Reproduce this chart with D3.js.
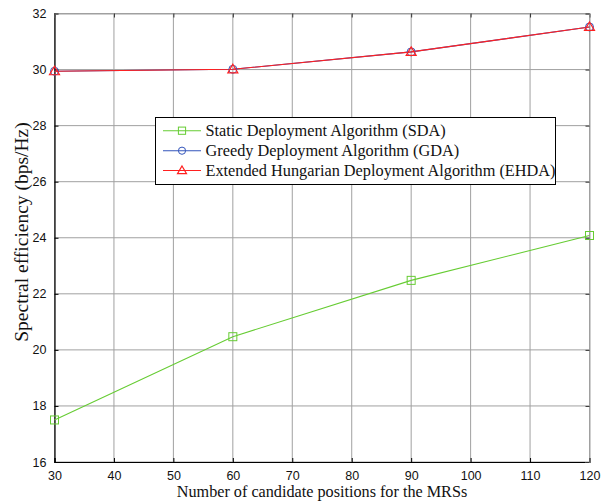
<!DOCTYPE html>
<html><head><meta charset="utf-8">
<script src="https://cdn.jsdelivr.net/npm/d3@7"></script>
<style>body{margin:0;background:#fff}</style>
</head><body>
<svg id="c" width="606" height="503"></svg>
<script>
const xValues = [30, 60, 90, 120];
const sdaValues = [17.5, 20.47, 22.48, 24.08];
const gdaValues = [29.94, 30.01, 30.63, 31.52];
const ehdaValues = [29.94, 30.01, 30.63, 31.52];
const xTicks = [30, 40, 50, 60, 70, 80, 90, 100, 110, 120];
const yTicks = [16, 18, 20, 22, 24, 26, 28, 30, 32];
const seriesNames = ["Static Deployment Algorithm (SDA)", "Greedy Deployment Algorithm (GDA)", "Extended Hungarian Deployment Algorithm (EHDA)"];

const svg = d3.select("#c");
const L = 54.5, R = 589.5, T = 13.5, B = 462;
const x = d3.scaleLinear().domain([30, 120]).range([L, R]);
const y = d3.scaleLinear().domain([16, 32]).range([B, T]);

// grid
const g = svg.append("g");
g.selectAll(".vg").data(xTicks).enter().append("line")
  .attr("x1", d => x(d)).attr("x2", d => x(d)).attr("y1", T).attr("y2", B)
  .attr("stroke", "#a0a0a0").attr("stroke-width", 1);
g.selectAll(".hg").data(yTicks).enter().append("line")
  .attr("y1", d => y(d)).attr("y2", d => y(d)).attr("x1", L).attr("x2", R)
  .attr("stroke", "#a0a0a0").attr("stroke-width", 1);

// axes (ticks inward)
const xAxis = d3.axisBottom(x).tickValues(xTicks).tickSize(-4).tickPadding(9).tickFormat(d3.format("d"));
const yAxis = d3.axisLeft(y).tickValues(yTicks).tickSize(-4).tickPadding(8).tickFormat(d3.format("d"));
const xa = svg.append("g").attr("transform", `translate(0,${B})`).call(xAxis);
const ya = svg.append("g").attr("transform", `translate(${L},0)`).call(yAxis);
const xt = svg.append("g").attr("transform", `translate(0,${T})`).call(d3.axisTop(x).tickValues(xTicks).tickSize(-4).tickFormat(""));
const yr = svg.append("g").attr("transform", `translate(${R},0)`).call(d3.axisRight(y).tickValues(yTicks).tickSize(-4).tickFormat(""));
[xa, ya].forEach(a => {
  a.select(".domain").attr("stroke", "#000").attr("stroke-width", 1.2);
  a.selectAll(".tick line").attr("stroke", "#000");
  a.selectAll("text").attr("font-family", "Liberation Sans, Arial, sans-serif").attr("font-size", 12.5).attr("fill", "#111");
});
[xt, yr].forEach(a => {
  a.select(".domain").attr("stroke", "#a0a0a0");
  a.selectAll(".tick line").attr("stroke", "#333");
});

// series
const colors = ["#66cc33", "#3355bb", "#ff2020"];
const line = d3.line().x((d, i) => x(xValues[i])).y(d => y(d));
const data = [sdaValues, gdaValues, ehdaValues];
data.forEach((vals, k) => {
  svg.append("path").datum(vals).attr("d", line).attr("fill", "none")
    .attr("stroke", colors[k]).attr("stroke-width", 1.1);
});
function marker(sel, k, cx, cy, s) {
  if (k === 0) {
    sel.append("rect").attr("x", cx - 4 * s).attr("y", cy - 4 * s).attr("width", 8 * s).attr("height", 8 * s)
      .attr("fill", "none").attr("stroke", colors[0]).attr("stroke-width", 1);
  } else if (k === 1) {
    sel.append("circle").attr("cx", cx).attr("cy", cy).attr("r", 4 * s)
      .attr("fill", "none").attr("stroke", colors[1]).attr("stroke-width", 1);
  } else {
    sel.append("path").attr("d", `M${cx},${cy - 5 * s}L${cx + 5 * s},${cy + 3.5 * s}L${cx - 5 * s},${cy + 3.5 * s}Z`)
      .attr("fill", "none").attr("stroke", colors[2]).attr("stroke-width", 1.2);
  }
}
data.forEach((vals, k) => {
  vals.forEach((v, i) => marker(svg, k, x(xValues[i]), y(v), 1));
});

// legend
const lg = svg.append("g");
lg.append("rect").attr("x", 155.5).attr("y", 117.5).attr("width", 400).attr("height", 67)
  .attr("fill", "#fff").attr("stroke", "#000").attr("stroke-width", 1);
const rowsY = [130.7, 150.7, 170.5];
seriesNames.forEach((name, k) => {
  lg.append("line").attr("x1", 163).attr("x2", 201).attr("y1", rowsY[k]).attr("y2", rowsY[k])
    .attr("stroke", colors[k]).attr("stroke-width", 1.1);
  marker(lg, k, 182, rowsY[k], 0.9);
  lg.append("text").attr("x", 205.5).attr("y", rowsY[k] + 5.2).text(name)
    .attr("font-family", "Liberation Serif, Times New Roman, serif").attr("font-size", 16.3).attr("fill", "#111");
});

// axis labels
svg.append("text").attr("x", 322).attr("y", 497).attr("text-anchor", "middle")
  .attr("font-family", "Liberation Serif, Times New Roman, serif").attr("font-size", 16.2).attr("fill", "#111")
  .text("Number of candidate positions for the MRSs");
svg.append("text").attr("transform", "translate(28,232) rotate(-90)").attr("text-anchor", "middle")
  .attr("font-family", "Liberation Serif, Times New Roman, serif").attr("font-size", 19.5).attr("fill", "#111")
  .text("Spectral efficiency (bps/Hz)");
</script>
</body></html>
